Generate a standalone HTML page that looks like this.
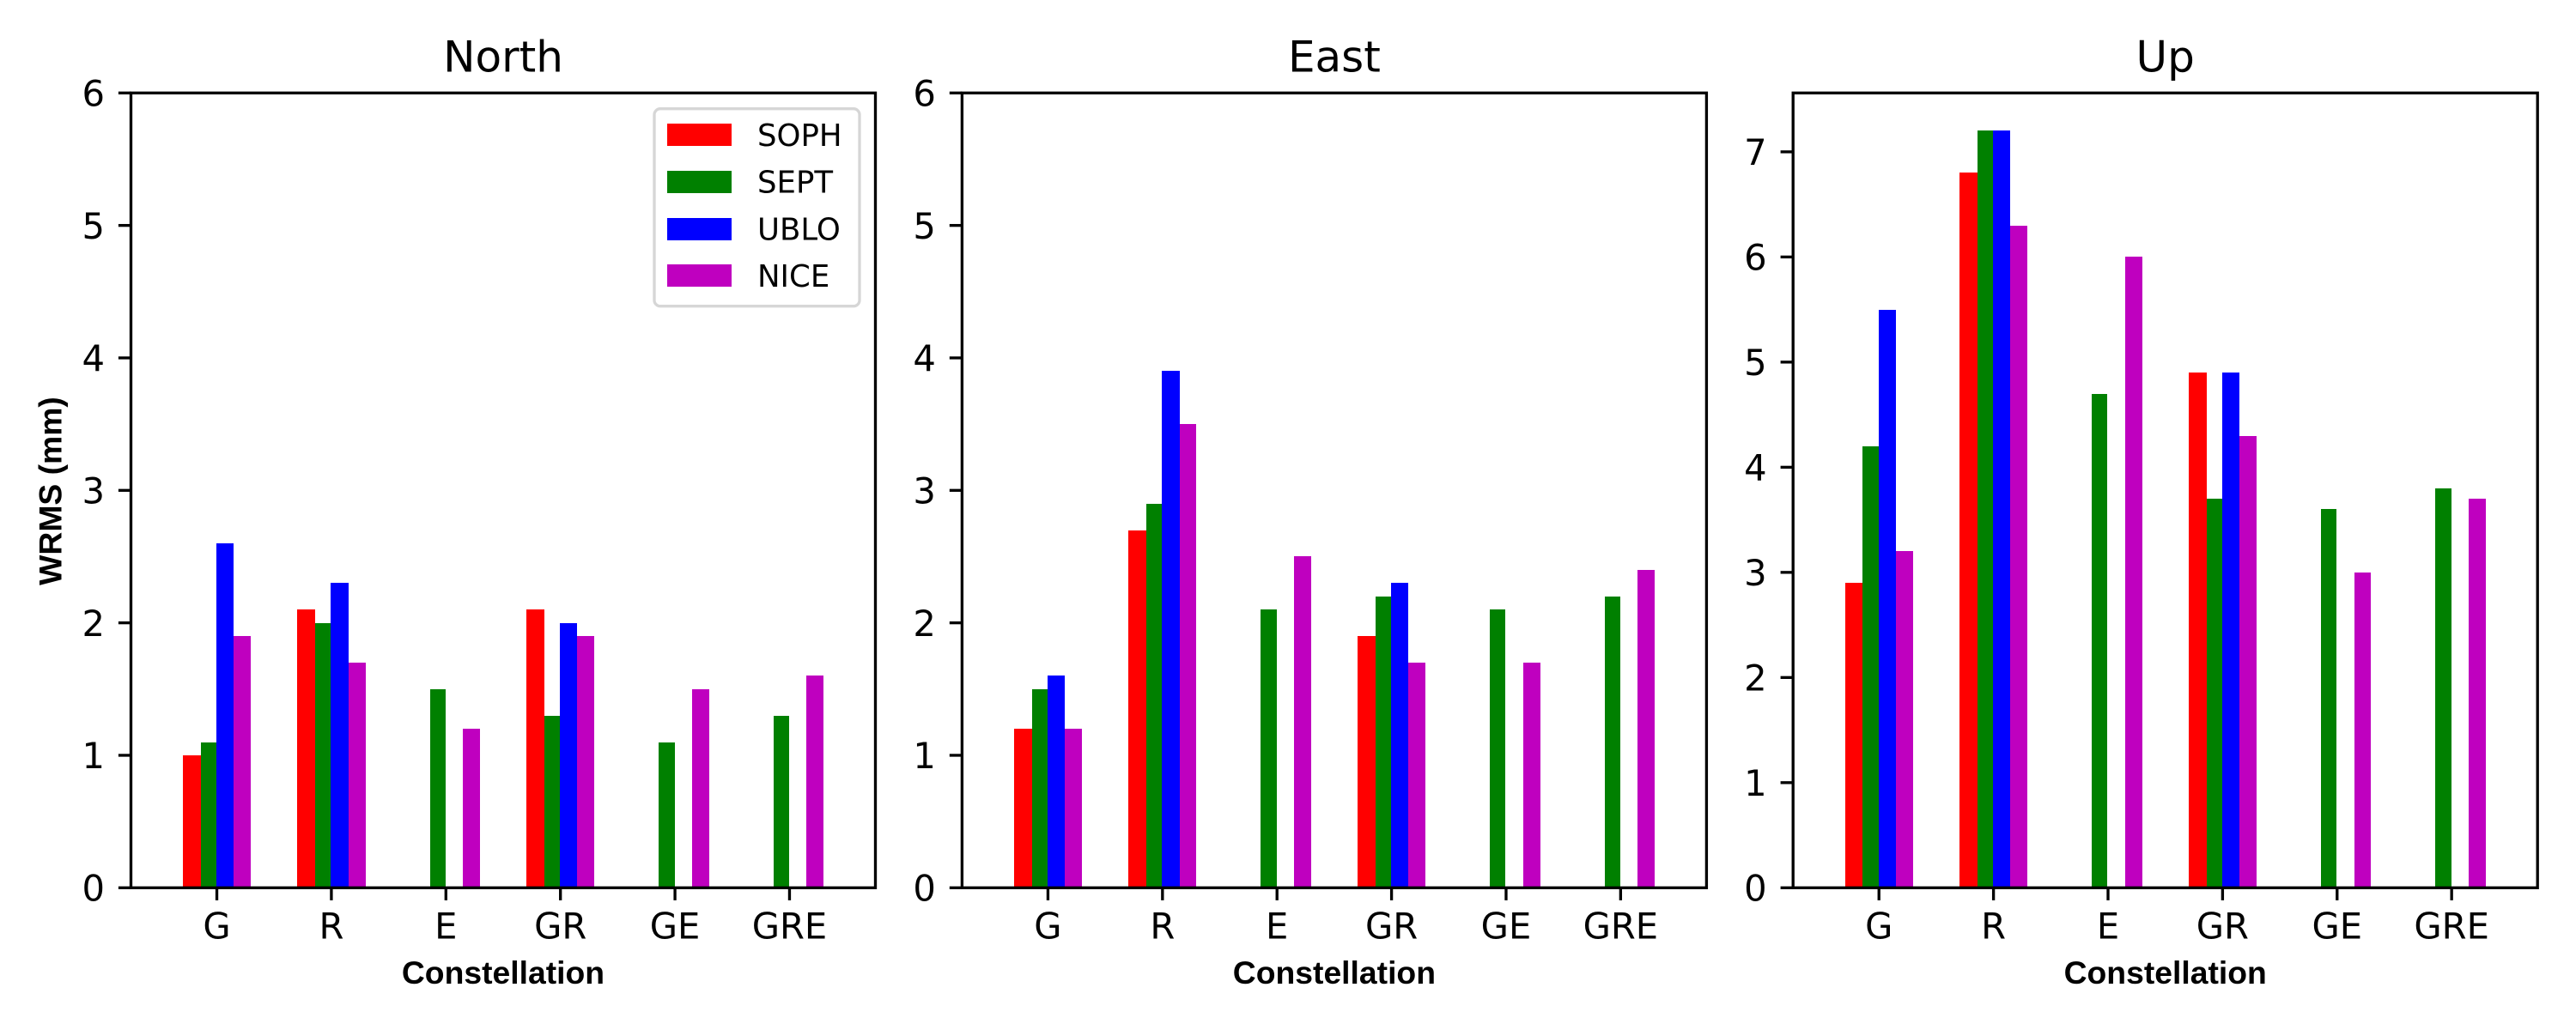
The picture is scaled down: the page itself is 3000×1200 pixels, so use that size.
<!DOCTYPE html>
<html lang="en">
<head>
<meta charset="utf-8">
<title>WRMS by constellation</title>
<style>
html,body{margin:0;padding:0;background:#fff;}
#chart{display:block;width:3000px;height:1200px;}
text{fill:#000;}
.dv{font-family:"DejaVu Sans",sans-serif;}
.lib{font-family:"Liberation Sans",sans-serif;font-weight:bold;font-size:37.3px;}
</style>
</head>
<body>
<svg id="chart" xmlns="http://www.w3.org/2000/svg" width="3000" height="1200" viewBox="0 0 3000 1200"></svg>
<script>
const categories = ['G', 'R', 'E', 'GR', 'GE', 'GRE'];
const stations = ['SOPH', 'SEPT', 'UBLO', 'NICE'];
const stationColors = ['#ff0000', '#008000', '#0000ff', '#bf00bf'];

const northSoph = [1.0, 2.1, null, 2.1, null, null];
const northSept = [1.1, 2.0, 1.5, 1.3, 1.1, 1.3];
const northUblo = [2.6, 2.3, null, 2.0, null, null];
const northNice = [1.9, 1.7, 1.2, 1.9, 1.5, 1.6];

const eastSoph = [1.2, 2.7, null, 1.9, null, null];
const eastSept = [1.5, 2.9, 2.1, 2.2, 2.1, 2.2];
const eastUblo = [1.6, 3.9, null, 2.3, null, null];
const eastNice = [1.2, 3.5, 2.5, 1.7, 1.7, 2.4];

const upSoph = [2.9, 6.8, null, 4.9, null, null];
const upSept = [4.2, 7.2, 4.7, 3.7, 3.6, 3.8];
const upUblo = [5.5, 7.2, null, 4.9, null, null];
const upNice = [3.2, 6.3, 6.0, 4.3, 3.0, 3.7];

const northEastTicks = [0, 1, 2, 3, 4, 5, 6];
const upTicks = [0, 1, 2, 3, 4, 5, 6, 7];

const panels = [
  { key: 'north', title: 'North', left: 152.5, yMax: 6, ticks: northEastTicks, series: [northSoph, northSept, northUblo, northNice] },
  { key: 'east', title: 'East', left: 1120.4, yMax: 6, ticks: northEastTicks, series: [eastSoph, eastSept, eastUblo, eastNice] },
  { key: 'up', title: 'Up', left: 2088.2, yMax: 7.56, ticks: upTicks, series: [upSoph, upSept, upUblo, upNice] }
];

const NS = 'http://www.w3.org/2000/svg';
const svg = document.getElementById('chart');
const TOP = 108.3, BOTTOM = 1034.3, WIDTH = 867;
const LW = 3.33, TICK = 14.6;

function make(parent, tag, attrs) {
  const el = document.createElementNS(NS, tag);
  for (const k in attrs) el.setAttribute(k, attrs[k]);
  parent.appendChild(el);
  return el;
}

// bar edges (category units) relative to the category centre, one span per station
function barStart(s) { return (s - 2) * 0.1485 + (s === 2 ? -0.004 : 0) + (s === 1 ? 0.008 : 0); }
function barEnd(s) { return barStart(s + 1 > 3 ? 4 : s + 1); }

panels.forEach(function (p) {
  const xScale = function (v) { return p.left + (v + 0.75) / 6.5 * WIDTH; };
  const yScale = function (v) { return BOTTOM - v / p.yMax * (BOTTOM - TOP); };

  const g = make(svg, 'g', {});
  
  

  // bars
  p.series.forEach(function (vals, s) {
    vals.forEach(function (v, i) {
      if (v === null) return;
      const x0 = Math.round(xScale(i + barStart(s)));
      const x1 = Math.round(xScale(i + barEnd(s)));
      const y0 = Math.round(yScale(v));
      const bar = make(g, 'rect', { x: x0, y: y0, width: x1 - x0, height: BOTTOM - y0, fill: stationColors[s], 'shape-rendering': 'crispEdges' });
      
      
    });
  });

  // axes frame
  const frame = make(g, 'rect', { x: p.left, y: TOP, width: WIDTH, height: BOTTOM - TOP, fill: 'none', stroke: '#000', 'stroke-width': LW });
  
  

  // y ticks
  p.ticks.forEach(function (t) {
    const y = yScale(t);
    const tk = make(g, 'line', { x1: p.left - TICK, x2: p.left, y1: y, y2: y, stroke: '#000', 'stroke-width': LW });
    
    
    const lb = make(g, 'text', { x: p.left - 30.5, y: y + 15.2, 'text-anchor': 'end', 'font-size': 41.67, class: 'dv' });
    lb.textContent = String(t);
    
    
  });

  // x ticks
  categories.forEach(function (c, i) {
    const x = xScale(i);
    const tk = make(g, 'line', { x1: x, x2: x, y1: BOTTOM, y2: BOTTOM + TICK, stroke: '#000', 'stroke-width': LW });
    
    
    const lb = make(g, 'text', { x: x, y: 1093.3, 'text-anchor': 'middle', 'font-size': 41.67, class: 'dv' });
    lb.textContent = c;
    
    
  });

  // title
  const title = make(g, 'text', { x: p.left + WIDTH / 2, y: 83.3, 'text-anchor': 'middle', 'font-size': 50, class: 'dv' });
  title.textContent = p.title;
  
  

  // x-axis title
  const xt = make(g, 'text', { x: p.left + WIDTH / 2, y: 1146, 'text-anchor': 'middle', class: 'lib' });
  xt.textContent = 'Constellation';
  
  
});

// y-axis title
const yTitle = make(svg, 'text', { transform: 'translate(71.7 572) rotate(-90)', 'text-anchor': 'middle', class: 'lib' });
yTitle.textContent = 'WRMS (mm)';



// legend
const legend = make(svg, 'g', {});


const legendBox = make(legend, 'rect', { x: 762, y: 126.7, width: 239, height: 230, rx: 7, ry: 7, fill: '#fff', stroke: '#d6d6d6', 'stroke-width': 3.33 });


stations.forEach(function (name, s) {
  const entry = make(legend, 'g', {});
  
  
  const top = 144 + s * 54.8;
  const sw = make(entry, 'rect', { x: 777, y: Math.round(top), width: 75, height: 26, fill: stationColors[s], 'shape-rendering': 'crispEdges' });
  
  
  const tx = make(entry, 'text', { x: 882, y: top + 25.8, 'font-size': 35.5, class: 'dv' });
  tx.textContent = name;
  
  
});
</script>
</body>
</html>
